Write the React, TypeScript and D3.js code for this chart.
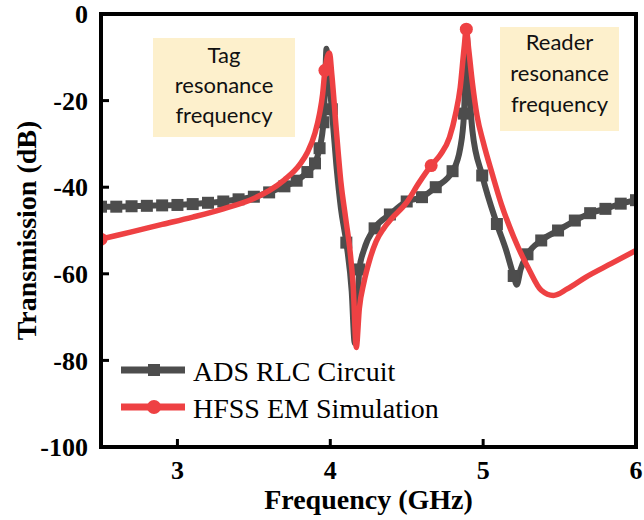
import React from "react";
import * as d3 from "d3";

// ---- data ----
const xTicks = [3, 4, 5, 6];
const yTicks = [0, -20, -40, -60, -80, -100];

// ADS RLC circuit (gray line)
const adsFreq = [
  2.5, 2.6, 2.7, 2.8, 2.9, 3.0, 3.1, 3.2, 3.3, 3.4, 3.5, 3.6, 3.7, 3.78, 3.85, 3.9, 3.93, 3.955,
  3.968, 3.975, 3.985, 4.01, 4.04, 4.07, 4.105, 4.14, 4.16, 4.175, 4.19, 4.22, 4.29, 4.39, 4.5,
  4.6, 4.69, 4.8, 4.85, 4.875, 4.893, 4.905, 4.93, 4.994, 5.09, 5.15, 5.2, 5.22, 5.245, 5.29,
  5.38, 5.49, 5.6, 5.7, 5.8, 5.9, 6.0,
];
const adsDb = [
  -44.5, -44.5, -44.4, -44.3, -44.2, -44.1, -43.9, -43.6, -43.3, -42.8, -42.2, -41.2, -39.8, -38.5,
  -36.5, -34.5, -31, -25, -14, -8, -12, -22, -35, -45, -52.8, -64, -76, -70, -59, -54.5, -49.5,
  -46.3, -43.3, -42.3, -40, -36.3, -31, -23, -5, -14, -27, -37.3, -48.5, -54.5, -60.5, -62.5, -59,
  -55.5, -52.3, -50, -47.7, -46, -45, -43.8, -43,
];
// frequencies carrying a square marker
const adsMarkerFreq = [
  2.5, 2.6, 2.7, 2.8, 2.9, 3.0, 3.1, 3.2, 3.3, 3.4, 3.5, 3.6, 3.7, 3.78, 3.85, 3.9, 3.93, 3.955,
  4.01, 4.105, 4.19, 4.29, 4.39, 4.5, 4.6, 4.69, 4.8, 4.875, 4.994, 5.09, 5.2, 5.29, 5.38, 5.49,
  5.6, 5.7, 5.8, 5.9, 6.0,
];

// HFSS EM simulation (red line)
const hfssFreq = [
  2.5, 2.7, 2.9, 3.1, 3.3, 3.5, 3.6, 3.7, 3.8, 3.85, 3.9, 3.93, 3.95, 3.965, 3.98, 3.995, 4.01,
  4.04, 4.07, 4.1, 4.13, 4.15, 4.17, 4.19, 4.22, 4.26, 4.3, 4.35, 4.4, 4.5, 4.58, 4.66, 4.72,
  4.78, 4.82, 4.85, 4.875, 4.89, 4.905, 4.93, 4.96, 5.0, 5.06, 5.12, 5.2, 5.3, 5.38, 5.46, 5.55,
  5.67, 5.84, 6.0,
];
const hfssDb = [
  -52, -50.3, -48.6, -46.9, -45, -42.6, -40.8, -38.3, -34.8, -32, -27.5, -23, -18.5, -13, -10,
  -9, -14, -27, -39, -47, -55, -63, -77, -68, -62, -56.5, -52.5, -49.5, -47.3, -43.5, -39, -35,
  -32.5, -28.5, -23, -17, -8, -3.5, -8, -16, -23.5, -29.5, -37, -44, -51.5, -59, -63.8, -65,
  -63.5, -60.8, -57.6, -54.6,
];
const hfssMarkerFreq = [2.5, 3.965, 4.66, 4.89];

const seriesNames = ["ADS RLC Circuit", "HFSS EM Simulation"];
const tagLines = ["Tag", "resonance", "frequency"];
const readerLines = ["Reader", "resonance", "frequency"];

// ---- styles ----
const W = 644;
const H = 520;
const GRAY = "#4d4d4d";
const RED = "#ee4143";
const BOX = "#fdf0cc";
const SERIF = "Liberation Serif, serif";
const SANS = "Lato, Noto Sans, sans-serif";

export default function App() {
  const x = d3.scaleLinear().domain([2.5, 6]).range([101, 636]);
  const y = d3.scaleLinear().domain([-100, 0]).range([447, 14]);

  const ads = adsFreq.map((f, i) => [f, adsDb[i]] as [number, number]);
  const hfss = hfssFreq.map((f, i) => [f, hfssDb[i]] as [number, number]);

  const line = d3
    .line<[number, number]>()
    .x((d) => x(d[0]))
    .y((d) => y(d[1]))
    .curve(d3.curveMonotoneX);

  const adsMarkers = adsMarkerFreq.map((f) => [f, adsDb[adsFreq.indexOf(f)]] as [number, number]);
  const hfssMarkers = hfssMarkerFreq.map((f) => [f, hfssDb[hfssFreq.indexOf(f)]] as [number, number]);

  const [x0, x1] = x.range();
  const [yb, yt] = y.range();
  const sq = 12;

  return (
    <svg
      width={W}
      height={H}
      style={{ position: "absolute", left: 0, top: 0, background: "#fff" }}
    >
      <defs>
        <clipPath id="plot">
          <rect x={x0} y={yt} width={x1 - x0} height={yb - yt} />
        </clipPath>
      </defs>

      {/* annotation boxes */}
      <rect x={153} y={38} width={142} height={99} fill={BOX} />
      {tagLines.map((t, i) => (
        <text key={t} x={224} y={63 + i * 30} textAnchor="middle" fontFamily={SANS} fontSize={22} fill="#111">
          {t}
        </text>
      ))}
      <rect x={500} y={27} width={119} height={104} fill={BOX} />
      {readerLines.map((t, i) => (
        <text key={t} x={559.5} y={50 + i * 31} textAnchor="middle" fontFamily={SANS} fontSize={22} fill="#111">
          {t}
        </text>
      ))}

      <g clipPath="url(#plot)">
        <path d={line(ads) || ""} fill="none" stroke={GRAY} strokeWidth={6} strokeLinejoin="round" />
        {adsMarkers.map((d, i) => (
          <rect key={i} x={x(d[0]) - sq / 2} y={y(d[1]) - sq / 2} width={sq} height={sq} fill={GRAY} />
        ))}
        <path d={line(hfss) || ""} fill="none" stroke={RED} strokeWidth={5.5} strokeLinejoin="round" />
        {hfssMarkers.map((d, i) => (
          <circle key={i} cx={x(d[0])} cy={y(d[1])} r={6.5} fill={RED} />
        ))}
      </g>

      {/* frame */}
      <rect x={x0} y={yt} width={x1 - x0} height={yb - yt} fill="none" stroke="#000" strokeWidth={4} />
      {xTicks.filter((t) => t < 6).map((t) => (
        <line key={t} x1={x(t)} x2={x(t)} y1={yb} y2={yb - 8} stroke="#000" strokeWidth={3} />
      ))}
      {yTicks.filter((t) => t > -100 && t < 0).map((t) => (
        <line key={t} x1={x0} x2={x0 + 8} y1={y(t)} y2={y(t)} stroke="#000" strokeWidth={3} />
      ))}

      {/* tick labels */}
      {xTicks.map((t) => (
        <text key={t} x={x(t)} y={479} textAnchor="middle" fontFamily={SERIF} fontWeight="bold" fontSize={26}>
          {t}
        </text>
      ))}
      {yTicks.map((t) => (
        <text
          key={t}
          x={88}
          y={y(t)}
          dy="0.35em"
          textAnchor="end"
          fontFamily={SERIF}
          fontWeight="bold"
          fontSize={26}
        >
          {t}
        </text>
      ))}

      {/* axis titles */}
      <text x={(x0 + x1) / 2} y={509} textAnchor="middle" fontFamily={SERIF} fontWeight="bold" fontSize={28}>
        Frequency (GHz)
      </text>
      <text
        transform={`translate(36,${(yt + yb) / 2}) rotate(-90)`}
        textAnchor="middle"
        fontFamily={SERIF}
        fontWeight="bold"
        fontSize={28}
      >
        Transmission (dB)
      </text>

      {/* legend */}
      <line x1={121} x2={185} y1={370} y2={370} stroke={GRAY} strokeWidth={7} />
      <rect x={154 - sq / 2} y={370 - sq / 2} width={sq} height={sq} fill={GRAY} />
      <text x={193} y={381} fontFamily={SERIF} fontSize={28}>
        {seriesNames[0]}
      </text>
      <line x1={121} x2={185} y1={407} y2={407} stroke={RED} strokeWidth={7} />
      <circle cx={154} cy={407} r={7} fill={RED} />
      <text x={193} y={418} fontFamily={SERIF} fontSize={28}>
        {seriesNames[1]}
      </text>
    </svg>
  );
}
